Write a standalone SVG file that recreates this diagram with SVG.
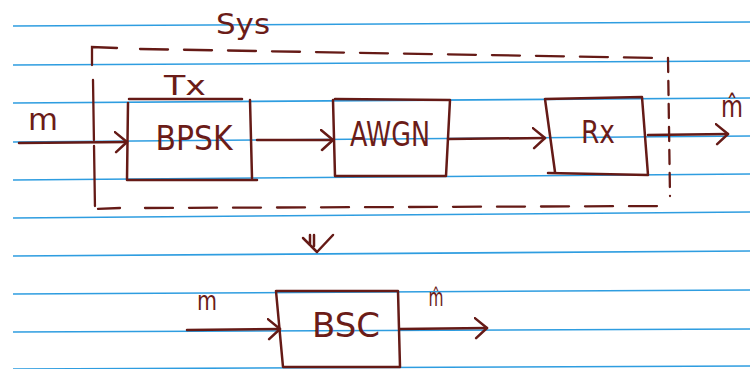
<svg xmlns="http://www.w3.org/2000/svg" width="750" height="369" viewBox="0 0 750 369">
  <defs>
    <style>
      .rule { stroke: #2e9de0; stroke-width: 1.6; fill: none; }
      .ink { stroke: #651a16; stroke-width: 2.5; fill: none; stroke-linecap: round; stroke-linejoin: round; }
      .dash { stroke: #651a16; stroke-width: 2.3; fill: none; stroke-linecap: round; }
      .lbl { fill: #6b1c18; font-family: "DejaVu Sans", "Liberation Sans", sans-serif; font-weight: normal; }
    </style>
    <marker id="open" markerUnits="userSpaceOnUse" markerWidth="20" markerHeight="26" refX="13" refY="11" orient="auto">
      <path d="M1,1 L13,11 L2,21" stroke="#651a16" stroke-width="2.5" fill="none" stroke-linecap="round" stroke-linejoin="round"/>
    </marker>
  </defs>
  <rect width="750" height="369" fill="#ffffff"/>

  <g id="paper-rules">
    <line class="rule" x1="13" y1="26" x2="750" y2="22"/>
    <line class="rule" x1="13" y1="65" x2="750" y2="61"/>
    <line class="rule" x1="13" y1="103" x2="750" y2="98"/>
    <line class="rule" x1="13" y1="142" x2="750" y2="136"/>
    <line class="rule" x1="13" y1="180" x2="750" y2="174"/>
    <line class="rule" x1="13" y1="218" x2="750" y2="212"/>
    <line class="rule" x1="13" y1="256" x2="750" y2="251"/>
    <line class="rule" x1="13" y1="294" x2="750" y2="290"/>
    <line class="rule" x1="13" y1="332" x2="750" y2="329"/>
    <line class="rule" x1="13" y1="369" x2="750" y2="366"/>
  </g>

  <g id="sys">
    <text class="lbl" x="243" y="34" font-size="28" text-anchor="middle" textLength="54" lengthAdjust="spacingAndGlyphs">Sys</text>
    <path class="dash" d="M92,65 L92,47 L117,48"/>
    <path class="dash" d="M140,49 L660,58" stroke-dasharray="28 16"/>
    <path class="dash" d="M668,58 L670,196" stroke-dasharray="14 9"/>
    <path class="dash" d="M93,80 L95,209 L120,208" stroke-dasharray="60 6"/>
    <path class="dash" d="M145,208 L665,206" stroke-dasharray="28 16"/>
  </g>

  <g id="bpsk">
    <text class="lbl" x="185" y="95" font-size="26" text-anchor="middle" textLength="42" lengthAdjust="spacingAndGlyphs">Tx</text>
    <path class="ink" d="M129,99 L242,99"/>
    <path class="ink" d="M250,100 L252,178 M257,180 L127,180 L128,103"/>
    <text class="lbl" x="194" y="150" font-size="34" text-anchor="middle" textLength="77" lengthAdjust="spacingAndGlyphs">BPSK</text>
  </g>

  <g id="awgn">
    <path class="ink" d="M335,99 L450,100 L446,176 L335,176 L333,100"/>
    <text class="lbl" x="390" y="146" font-size="34" text-anchor="middle" textLength="80" lengthAdjust="spacingAndGlyphs">AWGN</text>
  </g>

  <g id="rx">
    <path class="ink" d="M545,99 L642,97 L648,175 L548,173 M545,99 L555,172"/>
    <text class="lbl" x="598" y="143" font-size="32" text-anchor="middle" textLength="34" lengthAdjust="spacingAndGlyphs">Rx</text>
  </g>

  <g id="bsc">
    <path class="ink" d="M276,291 L398,291 L400,367 L283,367 L276,291"/>
    <text class="lbl" x="346" y="337" font-size="33" text-anchor="middle" textLength="68" lengthAdjust="spacingAndGlyphs">BSC</text>
  </g>

  <g id="labels">
    <text class="lbl" x="43" y="130" font-size="30" text-anchor="middle" textLength="30" lengthAdjust="spacingAndGlyphs">m</text>
    <text class="lbl" x="732" y="117" font-size="30" text-anchor="middle" textLength="22" lengthAdjust="spacingAndGlyphs">m̂</text>
    <text class="lbl" x="207" y="310" font-size="26" text-anchor="middle" textLength="20" lengthAdjust="spacingAndGlyphs">m</text>
    <text class="lbl" x="436" y="306" font-size="24" text-anchor="middle" textLength="15" lengthAdjust="spacingAndGlyphs">m̂</text>
  </g>

  <g id="connectors">
    <line class="ink" x1="19" y1="143" x2="127" y2="142" marker-end="url(#open)"/>
    <line class="ink" x1="257" y1="140" x2="333" y2="140" marker-end="url(#open)"/>
    <line class="ink" x1="448" y1="139" x2="545" y2="138" marker-end="url(#open)"/>
    <line class="ink" x1="648" y1="135" x2="728" y2="134" marker-end="url(#open)"/>
    <line class="ink" x1="187" y1="330" x2="280" y2="329" marker-end="url(#open)"/>
    <line class="ink" x1="400" y1="329" x2="487" y2="328" marker-end="url(#open)"/>
    <path class="ink" d="M310,235 L310,245 M314,235 L314,246 M303,238 L317,252 L333,235"/>
  </g>
</svg>
